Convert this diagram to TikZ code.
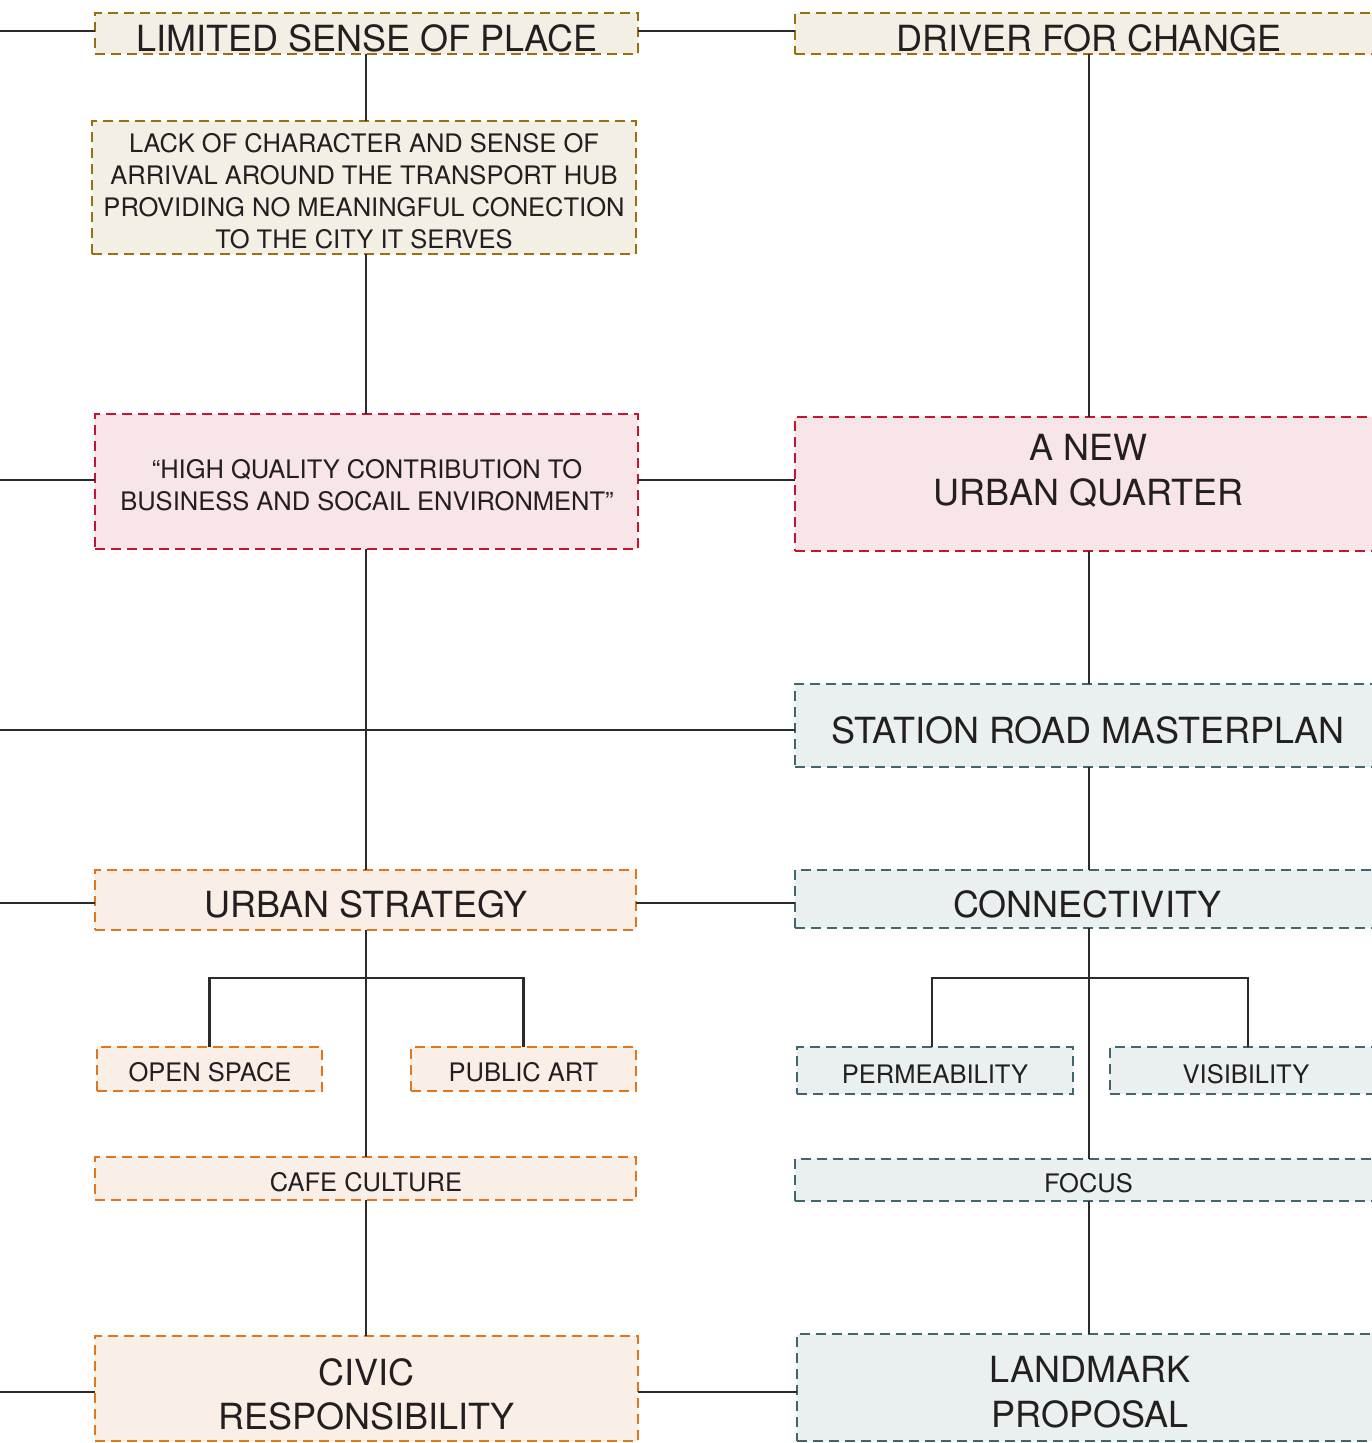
\documentclass[tikz,border=0pt]{standalone}
\usepackage{fontspec}
\setmainfont{TeX Gyre Heros}
\definecolor{ink}{HTML}{231F20}
\definecolor{lnk}{HTML}{2B2B2B}
\definecolor{olv}{HTML}{98700F}
\definecolor{olvf}{HTML}{F3EFE5}
\definecolor{rd}{HTML}{C8142D}
\definecolor{rdf}{HTML}{F7E5E7}
\definecolor{org}{HTML}{E2761C}
\definecolor{orgf}{HTML}{FAEFE6}
\definecolor{tl}{HTML}{41666F}
\definecolor{tlf}{HTML}{EAF0EF}
\tikzset{
  boxbase/.style={rectangle, inner sep=0pt, outer sep=0pt, line width=2.6pt, dash pattern=on 10pt off 6pt},
  olivebox/.style={boxbase, draw=olv, fill=olvf},
  redbox/.style={boxbase, draw=rd, fill=rdf},
  orangebox/.style={boxbase, draw=org, fill=orgf},
  tealbox/.style={boxbase, draw=tl, fill=tlf},
  bigtxt/.style={inner sep=0pt, align=center, text=ink, font=\fontsize{36}{45}\selectfont},
  smalltxt/.style={inner sep=0pt, align=center, text=ink, font=\fontsize{25.5}{32}\selectfont},
  link/.style={draw=lnk, line width=2.5pt},
}
\newcommand{\bx}[7]{% style, name, x1, x2, y1, y2
  \node[#1, minimum width={(#4)-(#3)}, minimum height={(#6)-(#5)}] (#2) at ({((#3)+(#4))/2},{((#5)+(#6))/2}) {};}
\begin{document}
\begin{tikzpicture}[x=1pt,y=-1pt]
\fill[white] (0,0) rectangle (1372,1443);
\useasboundingbox (0,0) rectangle (1372,1443);

% boxes
\bx{olivebox}{lsp}{95}{638}{13}{54}{}
\bx{olivebox}{dfc}{795}{1382}{13}{54}{}
\bx{olivebox}{lack}{92}{636}{121}{254}{}
\bx{redbox}{hq}{95}{638}{414}{549}{}
\bx{redbox}{anew}{795}{1382}{417}{551}{}
\bx{tealbox}{srm}{795}{1382}{684}{767}{}
\bx{orangebox}{us}{95}{636}{870}{930}{}
\bx{tealbox}{conn}{795}{1382}{870}{928}{}
\bx{orangebox}{os}{97}{322}{1047}{1091}{}
\bx{orangebox}{pa}{411}{636}{1047}{1091}{}
\bx{tealbox}{perm}{797}{1073}{1047}{1094}{}
\bx{tealbox}{vis}{1110}{1382}{1047}{1094}{}
\bx{orangebox}{cafe}{95}{636}{1157}{1200}{}
\bx{tealbox}{focus}{795}{1382}{1159}{1201}{}
\bx{orangebox}{civic}{95}{638}{1336}{1441}{}
\bx{tealbox}{lp}{797}{1382}{1334}{1441}{}

% texts
\node[bigtxt] (lsp-t) at (367,38) {LIMITED SENSE OF PLACE};
\node[bigtxt] (dfc-t) at (1088.5,38) {DRIVER FOR CHANGE};
\node[smalltxt] (lack-t) at (364,191.5) {LACK OF CHARACTER AND SENSE OF\\ARRIVAL AROUND THE TRANSPORT HUB\\PROVIDING NO MEANINGFUL CONECTION\\TO THE CITY IT SERVES};
\node[smalltxt] (hq-t) at (367,485) {“HIGH QUALITY CONTRIBUTION TO\\BUSINESS AND SOCAIL ENVIRONMENT”};
\node[bigtxt] (anew-t) at (1088.5,470.5) {A NEW\\URBAN QUARTER};
\node[bigtxt] (srm-t) at (1088,730.5) {STATION ROAD MASTERPLAN};
\node[bigtxt] (us-t) at (366,904.5) {URBAN STRATEGY};
\node[bigtxt] (conn-t) at (1087.5,904.5) {CONNECTIVITY};
\node[smalltxt] (os-t) at (210,1072.5) {OPEN SPACE};
\node[smalltxt] (pa-t) at (523.5,1072.5) {PUBLIC ART};
\node[smalltxt] (perm-t) at (935,1074.5) {PERMEABILITY};
\node[smalltxt] (vis-t) at (1246,1074.5) {VISIBILITY};
\node[smalltxt] (cafe-t) at (366,1182.5) {CAFE CULTURE};
\node[smalltxt] (focus-t) at (1088.5,1183.5) {FOCUS};
\node[bigtxt, font=\fontsize{36}{44}\selectfont] (civic-t) at (366.5,1394) {CIVIC\\RESPONSIBILITY};
\node[bigtxt] (lp-t) at (1090,1392.5) {LANDMARK\\PROPOSAL};

% free ends on the left edge
\coordinate (e1) at (0,31);
\coordinate (e2) at (0,480);
\coordinate (e3) at (0,730);
\coordinate (e4) at (0,903);
\coordinate (e5) at (0,1392);
\coordinate (j1) at (366,978);
\coordinate (j2) at (1089,978);

% horizontal connectors
\draw[link] (e1) -- (e1 -| lsp.west);
\draw[link] (lsp.east |- e1) -- (e1 -| dfc.west);
\draw[link] (e2) -- (e2 -| hq.west);
\draw[link] (hq.east |- e2) -- (e2 -| anew.west);
\draw[link] (e3) -- (e3 -| srm.west);
\draw[link] (e4) -- (e4 -| us.west);
\draw[link] (us.east |- e4) -- (e4 -| conn.west);
\draw[link] (e5) -- (e5 -| civic.west);
\draw[link] (civic.east |- e5) -- (e5 -| lp.west);

% vertical connectors, left column
\draw[link] (lsp.south -| j1) -- (lack.north -| j1);
\draw[link] (lack.south -| j1) -- (hq.north -| j1);
\draw[link] (hq.south -| j1) -- (us.north -| j1);
\draw[link] (us.south -| j1) -- (cafe.north -| j1);
\draw[link] (os.north) -- (os.north |- j1) -- (pa.north |- j1) -- (pa.north);
\draw[link] (cafe.south -| j1) -- (civic.north -| j1);

% vertical connectors, right column
\draw[link] (dfc.south -| j2) -- (anew.north -| j2);
\draw[link] (anew.south -| j2) -- (srm.north -| j2);
\draw[link] (srm.south -| j2) -- (conn.north -| j2);
\draw[link] (conn.south -| j2) -- (focus.north -| j2);
\draw[link] ([xshift=-3pt]perm.north) -- ([xshift=-3pt]perm.north |- j2) -- ([xshift=2pt]vis.north |- j2) -- ([xshift=2pt]vis.north);
\draw[link] (focus.south -| j2) -- (lp.north -| j2);
\end{tikzpicture}
\end{document}
